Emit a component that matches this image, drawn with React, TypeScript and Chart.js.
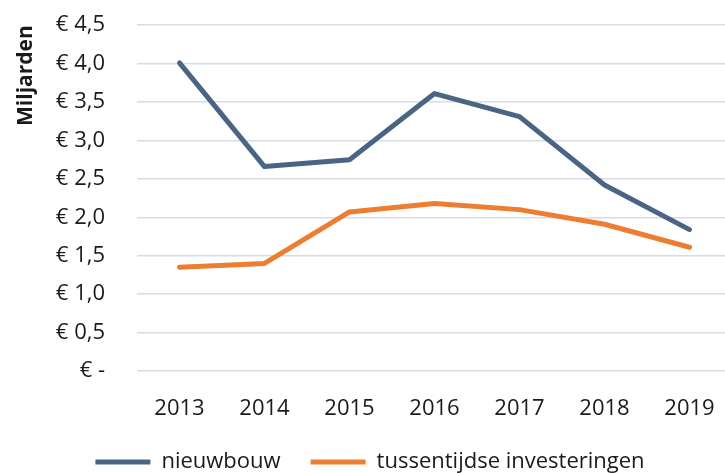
import React, { useEffect, useRef } from "react";
import { Chart, registerables } from "chart.js";

Chart.register(...registerables);

const years: string[] = ["2013", "2014", "2015", "2016", "2017", "2018", "2019"];
const nieuwbouw: number[] = [4.01, 2.66, 2.75, 3.61, 3.31, 2.42, 1.84];
const tussentijdse: number[] = [1.35, 1.40, 2.07, 2.18, 2.10, 1.91, 1.61];
const yTickValues: number[] = [0, 0.5, 1, 1.5, 2, 2.5, 3, 3.5, 4, 4.5];
const yTickLabels: string[] = ["€ -", "€ 0,5", "€ 1,0", "€ 1,5", "€ 2,0", "€ 2,5", "€ 3,0", "€ 3,5", "€ 4,0", "€ 4,5"];
const seriesNames: string[] = ["nieuwbouw", "tussentijdse investeringen"];
const axisTitle = "Miljarden";

const FONT = "'Open Sans', sans-serif";

export default function App() {
  const ref = useRef<HTMLCanvasElement | null>(null);

  useEffect(() => {
    if (!ref.current) return;
    const chart = new Chart(ref.current, {
      type: "line",
      data: {
        labels: years,
        datasets: [
          {
            label: seriesNames[0],
            data: nieuwbouw,
            borderColor: "#4A6584",
            backgroundColor: "#4A6584",
            borderWidth: 5,
            borderCapStyle: "round",
            borderJoinStyle: "round",
            pointRadius: 0,
            pointHoverRadius: 0,
            tension: 0,
          },
          {
            label: seriesNames[1],
            data: tussentijdse,
            borderColor: "#ED7D31",
            backgroundColor: "#ED7D31",
            borderWidth: 5,
            borderCapStyle: "round",
            borderJoinStyle: "round",
            pointRadius: 0,
            pointHoverRadius: 0,
            tension: 0,
          },
        ],
      },
      options: {
        responsive: false,
        animation: false,
        layout: { padding: { top: 0, right: 21, bottom: 0, left: 0 } },
        plugins: {
          tooltip: { enabled: false },
          legend: {
            position: "bottom",
            labels: {
              usePointStyle: true,
              pointStyle: "line",
              pointStyleWidth: 55,
              boxWidth: 55,
              boxHeight: 5,
              padding: 30,
              color: "#1a1a1a",
              font: { family: FONT, size: 22 },
            },
          },
        },
        scales: {
          x: {
            offset: true,
            grid: { display: false },
            border: { display: false },
            ticks: {
              color: "#1a1a1a",
              font: { family: FONT, size: 22 },
              padding: 17,
              maxRotation: 0,
            },
            afterFit: (scale: any) => {
              scale.height = 50;
            },
          },
          y: {
            min: 0,
            max: 4.5,
            border: { display: false },
            grid: { color: "#D6DCE5", lineWidth: 1.5, drawTicks: false },
            afterBuildTicks: (scale: any) => {
              scale.ticks = yTickValues.map((v) => ({ value: v }));
            },
            ticks: {
              color: "#1a1a1a",
              font: { family: FONT, size: 22 },
              padding: 32,
              callback: (value: any) => {
                const i = yTickValues.findIndex((v) => Math.abs(v - Number(value)) < 1e-6);
                return i >= 0 ? yTickLabels[i] : "";
              },
            },
            title: {
              display: true,
              text: axisTitle,
              align: "end",
              color: "#1a1a1a",
              font: { family: FONT, size: 21, weight: "bold" },
              padding: { top: 5, bottom: 0 },
            },
            afterFit: (scale: any) => {
              scale.width = 129;
            },
          },
        },
      },
    } as any);
    return () => chart.destroy();
  }, []);

  return (
    <div style={{ position: "fixed", left: 0, top: 0, width: 725, height: 473, overflow: "hidden", background: "#fff" }}>
      <div style={{ position: "absolute", left: 8, top: -20, width: 745, height: 503 }}>
        <canvas ref={ref} width={745} height={503} style={{ width: 745, height: 503, display: "block" }} />
      </div>
    </div>
  );
}
